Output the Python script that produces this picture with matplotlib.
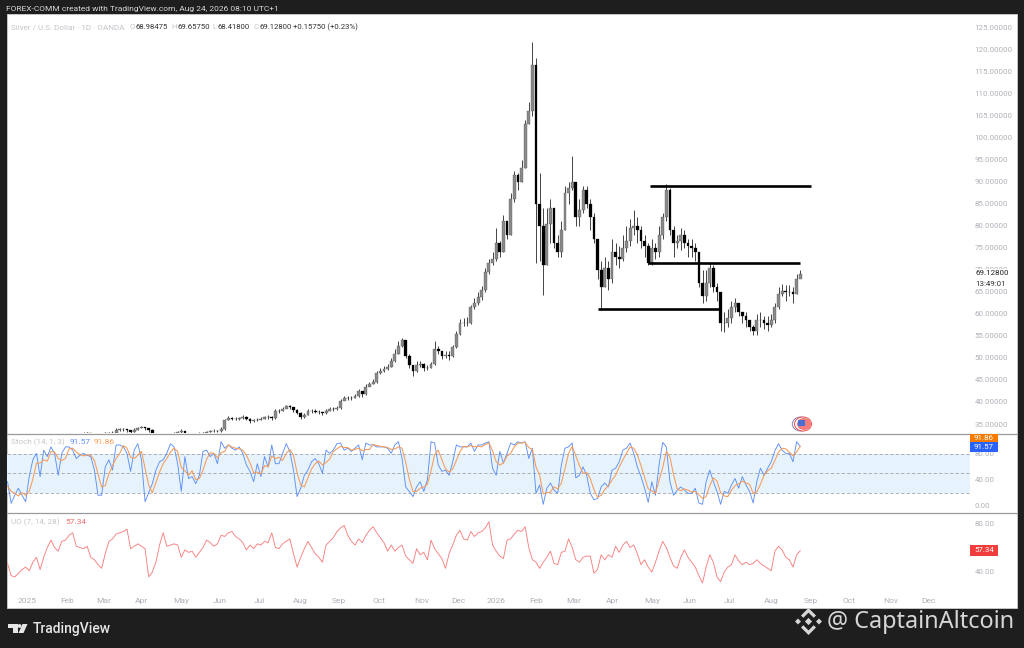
import matplotlib
matplotlib.use("Agg")
import matplotlib.pyplot as plt
from matplotlib.patches import Rectangle, Polygon, Ellipse
from matplotlib.lines import Line2D

plt.rcParams['font.family'] = ['Roboto', 'DejaVu Sans']

W, H = 1024, 648
closes = [
 29.5,29.8,29.9,30.2,30.5,30.6,30.8,31.0,31.3,31.8,
 32.0,32.3,32.6,32.4,32.0,32.2,32.5,32.8,32.9,32.6,
 31.8,32.0,32.4,32.9,33.0,33.0,33.7,33.9,33.9,33.6,
 33.3,33.6,34.1,34.3,34.0,33.7,30.5,29.8,30.2,31.5,
 32.3,32.6,32.8,33.2,33.4,32.8,32.6,32.4,32.5,32.8,
 33.0,33.2,33.4,33.5,33.4,33.8,35.8,36.4,36.2,36.1,
 36.4,36.6,36.2,35.7,35.9,36.0,36.2,36.5,36.6,36.3,
 38.0,37.9,38.4,39.0,38.9,38.2,37.6,36.5,37.1,37.9,
 38.0,37.8,37.7,37.4,37.9,38.5,38.4,38.7,40.2,41.0,
 40.9,40.9,41.4,42.5,41.7,43.5,44.1,44.6,46.5,47.0,
 47.5,48.0,49.2,51.0,52.8,54.0,50.5,48.3,47.0,48.5,
 48.6,47.6,47.8,48.6,52.0,51.5,50.4,50.6,50.5,52.5,
 55.5,58.0,58.0,58.0,61.5,62.5,63.8,65.5,69.5,71.5,
 72.5,76.0,74.0,81.0,78.0,86.0,91.5,90.0,93.0,103,
 106,116.5,85,80,71,80.5,84,76,74,79,
 87.5,88.5,90,82,83.5,88,85,82,77,70,
 66,70.5,68,74,73,72.5,75,76.5,79.5,80,
 79,76.5,75.5,71.5,75,74,78,82,88,79,
 76,76.5,78,76,75.5,75,74,67,64,67,
 70.5,66,65,58,58,59,61.5,62.5,60.5,59.5,
 58.5,57,56,58.5,58.5,58,57.5,58.5,61.5,64.5,
 65.3,65,65,64.5,68,69.13]
highs = [
 29.9,30.1,30.3,30.6,30.8,31.0,31.2,31.4,31.8,32.2,
 32.4,32.7,32.9,32.8,32.6,32.6,32.9,33.1,33.1,33.0,
 32.6,32.4,32.8,33.2,33.3,33.4,34.0,34.2,34.2,33.9,
 33.7,34.0,34.4,34.6,34.4,34.0,33.8,30.8,31.0,32.0,
 32.8,33.0,33.1,33.5,33.8,33.4,33.0,32.9,32.9,33.1,
 33.3,33.5,33.7,33.9,33.7,34.3,36.2,36.8,36.7,36.5,
 36.7,37.0,36.8,36.3,36.2,36.4,36.6,36.9,37.0,36.8,
 38.4,38.4,38.8,39.4,39.3,38.9,38.3,37.7,37.5,38.3,
 38.5,38.3,38.1,37.8,38.4,38.9,38.9,39.1,40.6,41.4,
 41.4,41.3,41.9,42.9,42.6,44.0,44.6,45.3,47.0,47.6,
 48.1,48.6,50.0,52.0,53.8,54.6,54.0,50.8,48.5,49.2,
 49.3,48.9,48.4,49.0,53.8,52.7,51.6,51.5,51.6,53.0,
 56.2,58.8,59.0,59.3,62.0,63.5,65.0,66.4,70.5,72.5,
 74.0,79.5,76.5,82.5,81.0,87.5,92.5,92.0,95.0,104.0,
 108,121.7,118,92,84,84,86,84,78,81,
 89,90,95.8,90,86,89,89,86,83,77,
 72,73,72,77,76,75.5,78,80,81.5,83.5,
 82,80,78,76,77,76,80,83,89.5,88.5,
 80,78,79.5,79,77,77,76,74,70,70,
 71.5,71,67,65,60.5,61,63,63.5,62.5,60.5,
 60.5,58.5,57.5,60,60.5,59.5,59.5,60,62.5,66,
 66.8,66.5,66.5,66.2,69,70]
lows = [
 29.2,29.3,29.6,29.8,30.2,30.3,30.5,30.7,31.0,31.3,
 31.7,32.0,32.2,32.1,31.7,31.8,32.2,32.5,32.5,32.2,
 31.5,31.6,32.0,32.5,32.6,32.8,33.0,33.5,33.5,33.3,
 33.0,33.2,33.6,34.0,33.6,33.3,30.1,28.7,29.5,30.0,
 32,32.2,32.5,32.8,33,32.5,32.3,32.1,32.2,32.4,
 32.7,32.9,33.1,33.2,33.1,33.2,33.6,35.8,35.9,35.8,
 36,36.2,35.8,35.3,35.5,35.7,35.9,36.1,36.2,35.9,
 36.2,37.5,37.9,38.6,38.4,37.8,37.2,36.1,36.3,37,
 37.6,37.4,37.2,37,37.3,37.9,38,38.2,38.5,40.5,
 40.4,40.4,40.9,41.2,41.2,41.5,43.6,44,44.4,46.3,
 46.9,47.2,47.9,49,50.8,52.5,50,47.8,46,46.8,
 47.9,47.1,47.2,47.6,48.4,50.8,49.7,49.9,49.5,50.2,
 52.3,55.3,57.2,57.2,57.8,61,62,63.2,65,69,
 71,72,73,74,77,78,85.5,88,90,93,
 103,105,71.5,72,64.3,71,76,75,73,73,
 79,85,88,80,80,83,84,79,76,68,
 60.9,66,65.5,67,71,70.5,72,74,75.5,78,
 76,75,73,71,71,72.5,73,77,81,78,
 73,75,74.5,75,73,73,72,66,62.5,63,
 66,65,63,56,55.8,57,58,60.5,59.5,58,
 57,56,55.2,55.2,57,56.5,56,57,58,61,
 64,63,64,62.5,64.5,68.4]
stoch_k = [
 37,3.5,16,27,16,6,45,71,81,45,86,76,91,81,47,81,91,91,86,73,78,81,78,76,55,16,16,60,71,55,
 94,94,91,81,53,86,96,71,6,20,34,55,68,71,81,96,91,65,22,76,42,45,34,47,84,86,76,81,65,99,
 89,94,89,86,91,81,63,53,37,65,45,76,60,94,65,65,81,96,84,55,14,27,47,55,68,73,65,50,86,81,
 86,96,97,86,89,84,89,94,71,97,94,94,91,91,91,89,81,94,99,73,29,22,14,29,37,22,40,99,97,63,
 53,55,47,68,94,91,91,91,97,84,94,94,97,99,58,47,84,66,81,97,94,99,97,99,73,89,19,32,2,27,
 35,24,19,63,89,91,97,43,47,60,47,19,9,11,29,35,29,55,58,68,86,89,97,81,60,45,27,5,37,16,
 63,98,91,37,16,24,29,24,19,19,27,4,2,37,55,37,22,2,22,19,32,42,27,45,32,22,4,37,58,47,
 58,68,85,96,86,81,81,68,99,91.57]
stoch_d = [
 30,22,19,15,20,16,22,41,66,66,71,69,84,83,73,70,73,88,89,83,79,77,79,78,70,49,29,31,49,62,
 73,81,93,89,75,73,78,84,58,32,20,36,52,65,73,83,89,84,59,54,47,54,40,42,55,72,82,81,74,82,
 84,94,91,89,88,86,78,66,51,52,49,62,60,77,73,75,70,81,87,78,51,32,29,43,57,65,69,63,67,72,
 84,88,92,90,90,86,87,89,85,87,87,95,93,92,91,90,87,88,91,89,67,41,22,22,27,29,33,54,79,86,
 71,57,52,57,70,84,92,91,93,91,92,91,95,97,85,68,63,66,77,81,91,97,97,98,90,87,60,47,18,20,
 21,29,26,35,57,81,92,77,62,50,51,42,25,13,16,25,31,40,47,60,71,81,91,89,79,62,44,26,23,19,
 39,59,84,75,48,26,23,26,24,21,22,17,11,14,31,43,38,20,15,14,24,31,34,38,35,33,19,21,33,47,
 54,58,70,83,89,88,83,77,83,91.86]
uo = [
 47,37,36,39,42,44,41,48,52,42,52,60,66,60,57,65,66,70,72,61,60,59,61,52,50,46,43,55,65,67,
 71,72,73,75,59,61,63,61,59,36,40,48,62,72,61,62,63,62,52,58,56,57,52,56,60,66,64,61,63,70,
 69,72,73,69,67,64,58,62,59,63,62,65,64,72,60,59,63,65,67,55,44,52,59,65,60,55,52,48,62,65,
 68,73,76,78,70,65,62,67,64,70,74,77,72,68,64,57,62,57,60,62,53,50,47,59,54,56,50,66,59,55,
 51,43,55,62,70,74,67,66,73,69,72,73,76,81,62,57,53,51,66,67,71,74,73,77,60,50,48,43,48,52,
 57,47,46,56,57,67,60,50,48,52,53,53,39,42,54,50,54,52,61,56,62,65,60,62,55,46,50,44,40,48,
 57,65,60,52,45,43,52,58,52,48,44,37,31,44,54,48,36,32,40,44,46,54,49,46,48,46,47,50,47,45,
 43,41,57,61,58,52,50,44,54,57.34]
price_ticks = list(range(35, 130, 5))
month_labels = ['2025','Feb','Mar','Apr','May','Jun','Jul','Aug','Sep','Oct','Nov','Dec',
                '2026','Feb','Mar','Apr','May','Jun','Jul','Aug','Sep','Oct','Nov','Dec']
month_bars = [3,25,45,66,88,109,131,154,175,197,221,241,262,284,305,326,348,369,391,414,436,457,480,501]
level_prices = [89.0, 71.5, 61.0]
level_starts = [347, 346, 318]
level_ends = [436, 430, 386]

BG = '#1e1e1e'
GREY = '#aeb1b8'
BORDER = '#9a9a9a'
fig = plt.figure(figsize=(W/100, H/100), dpi=100, facecolor=BG)
fx = lambda x: x/W
fy = lambda y: 1-y/H
tf = fig.transFigure

fig.add_artist(Rectangle((fx(7), fy(608)), 1010/W, 594/H, transform=tf, fc='white', ec='#cfcfcf', lw=0.6, zorder=-5))

def pane(top, bot):
    ax = fig.add_axes([fx(7), fy(bot), (970-7)/W, (bot-top)/H])
    ax.set_xlim(-8.29, 523.8)
    for s in ax.spines.values():
        s.set_visible(False)
    ax.set_xticks([])
    ax.yaxis.tick_right()
    ax.tick_params(axis='y', length=0, pad=3.2, labelsize=5.7, labelcolor=GREY)
    ax.patch.set_alpha(0)
    return ax

# price pane
ax1 = pane(14, 433)
ax1.set_ylim(120-(433-49.5)/4.406, 120+(49.5-14)/4.406)
bars = [2*k for k in range(len(closes))]
opens = [closes[0]] + closes[:-1]
ax1.vlines(bars, lows, highs, color='#111111', lw=0.55, zorder=2)
up = [i for i in range(len(closes)) if closes[i] >= opens[i]]
dn = [i for i in range(len(closes)) if closes[i] < opens[i]]
ax1.bar([bars[i] for i in up], [closes[i]-opens[i] for i in up], bottom=[opens[i] for i in up],
        width=1.6, color='#8a8a8a', edgecolor='#555555', lw=0.25, zorder=3)
ax1.bar([bars[i] for i in dn], [opens[i]-closes[i] for i in dn], bottom=[closes[i] for i in dn],
        width=1.5, color='#000000', edgecolor='#000000', lw=0.2, zorder=3)
ax1.hlines(level_prices, level_starts, level_ends, color='black', lw=1.9, zorder=4)
ax1.set_yticks(price_ticks)
ax1.set_yticklabels([f'{p:.5f}' for p in price_ticks])

# stochastic pane
ax2 = pane(434, 512)
ax2.set_ylim((505.6-512)/0.645, (505.6-434)/0.645)
ax2.axhspan(20, 80, color='#e6f3fd', lw=0, zorder=0)
ax2.hlines([20, 50, 80], -8.29, 523.8, color='#a3a5ab', lw=0.6, linestyles=(0, (4, 2.5)), zorder=1)
osc_x = [2*k for k in range(-4, len(stoch_k)-4)]
ax2.plot(osc_x, stoch_k, color='#5f8ff5', lw=0.65, zorder=2)
ax2.plot(osc_x, stoch_d, color='#f79a55', lw=0.75, zorder=3)
ax2.set_yticks([0, 40, 80])
ax2.set_yticklabels(['0.00', '40.00', '80.00'])

# ultimate oscillator pane
ax3 = pane(513, 588)
ax3.set_ylim(80-(588-523)/1.225, 80+(523-513)/1.225)
ax3.plot(osc_x, uo, color='#f78080', lw=0.65)
ax3.set_yticks([40, 60, 80])
ax3.set_yticklabels(['40.00', '60.00', '80.00'])

# time axis
ax4 = pane(588, 608)
ax4.set_ylim(0, 1)
ax4.set_yticks([])
ax4.set_xticks(month_bars)
ax4.set_xticklabels(month_labels)
ax4.xaxis.tick_top()
ax4.tick_params(axis='x', length=0, pad=-9.5, labelsize=6.0, labelcolor=GREY)
for lb in ax4.get_xticklabels():
    lb.set_verticalalignment('center')

for y in (433.5, 512.5):
    fig.add_artist(Line2D([fx(7), fx(1017)], [fy(y), fy(y)], transform=tf, color=BORDER, lw=0.9, zorder=5))

def T(x, y, s, color=GREY, size=5.9, ha='left', **kw):
    fig.text(fx(x), fy(y), s, color=color, fontsize=size, ha=ha, va='center', zorder=8, **kw)

T(6, 9.5, 'FOREX-COMM created with TradingView.com, Aug 24, 2026 08:10 UTC+1', color='#d8d8d8', size=6.05)
T(11, 27, 'Silver / U.S. Dollar · 1D · OANDA', color='#c4c6cc')
for x, lab, val in [(130, 'O', '68.98475'), (171, 'H', '69.65750'), (212, 'L', '68.41800'), (253, 'C', '69.12800')]:
    T(x, 27, lab, color='#c4c6cc', size=5.6)
    T(x+6, 27, val, color='#333333', size=5.6)
T(293, 27, '+0.15750 (+0.23%)', color='#333333', size=5.6)
T(11, 442.5, 'Stoch (14, 1, 3)', color='#c4c6cc', size=5.9)
T(70, 442.5, '91.57', color='#5f8ff5', size=6)
T(94, 442.5, '91.86', color='#f79a55', size=6)
T(11, 522, 'UO (7, 14, 28)', color='#c4c6cc', size=5.9)
T(65, 522, '57.34', color='#f07070', size=6)

# last price marker on the scale
fig.add_artist(Rectangle((fx(971), fy(289)), 42/W, 20.5/H, transform=tf, fc='white', ec='none', zorder=7))
T(975, 273, '69.12800', color='#222222', size=5.7)
T(975, 284, '13:49:01', color='#333333', size=5.7)

def tag(y0, y1, color, text):
    fig.add_artist(Rectangle((fx(970), fy(y1)), 28/W, (y1-y0)/H, transform=tf, fc=color, ec='none', zorder=7))
    T(984, (y0+y1)/2, text, color='white', size=5.7, ha='center')
tag(434, 442, '#f57c00', '91.86')
tag(442, 452, '#2962ff', '91.57')
tag(545, 556, '#f23d3d', '57.34')

# news flag icon
for dx, col in [(-2.2, '#8a80b8'), (0, '#f04f4f')]:
    fig.add_artist(Ellipse((fx(803+dx), fy(424)), 17/W, 14/H, transform=tf, fc='white', ec=col, lw=0.7, zorder=6))
fig.add_artist(Ellipse((fx(804), fy(424)), 14/W, 12/H, transform=tf, fc='#f47c7c', ec='none', zorder=6))
fig.add_artist(Rectangle((fx(797.5), fy(426)), 7/W, 6.5/H, transform=tf, fc='#4a6fd0', ec='none', zorder=6))

# TradingView logo
LOGO = '#e6e6e6'
def poly(pts, color=LOGO):
    fig.add_artist(Polygon([(fx(a), fy(b)) for a, b in pts], closed=True, transform=tf, fc=color, ec='none', zorder=6))
poly([(8, 624), (17.5, 624), (17.5, 633), (12.5, 633), (12.5, 627.5), (8, 627.5)])
poly([(22.5, 624), (27.5, 624), (23.5, 633), (18.5, 633)])
fig.add_artist(Ellipse((fx(19.6), fy(626)), 3.8/W, 3.8/H, transform=tf, fc=LOGO, ec='none', zorder=6))
fig.text(fx(32.5), fy(628.5), 'TradingView', color=LOGO, fontsize=10, fontweight='medium', ha='left', va='center', zorder=8)

# watermark
MARK = '#d6d6d6'
cx, cy = 808.5, 621.5
poly([(cx, cy-3.6), (cx+3.6, cy), (cx, cy+3.6), (cx-3.6, cy)], MARK)
poly([(cx-13.5, cy), (cx-10.5, cy-3), (cx-7.5, cy), (cx-10.5, cy+3)], MARK)
poly([(cx+13.5, cy), (cx+10.5, cy-3), (cx+7.5, cy), (cx+10.5, cy+3)], MARK)
poly([(cx, cy-13.5), (cx+7.5, cy-6), (cx+5.2, cy-3.7), (cx, cy-8.9), (cx-5.2, cy-3.7), (cx-7.5, cy-6)], MARK)
poly([(cx, cy+13.5), (cx+7.5, cy+6), (cx+5.2, cy+3.7), (cx, cy+8.9), (cx-5.2, cy+3.7), (cx-7.5, cy+6)], MARK)
fig.text(fx(827), fy(622), '@ CaptainAltcoin', color=MARK, fontsize=16.9, family=['Noto Sans', 'DejaVu Sans'],
         ha='left', va='center', zorder=8)

fig.savefig('out.png', dpi=100, facecolor=BG)
